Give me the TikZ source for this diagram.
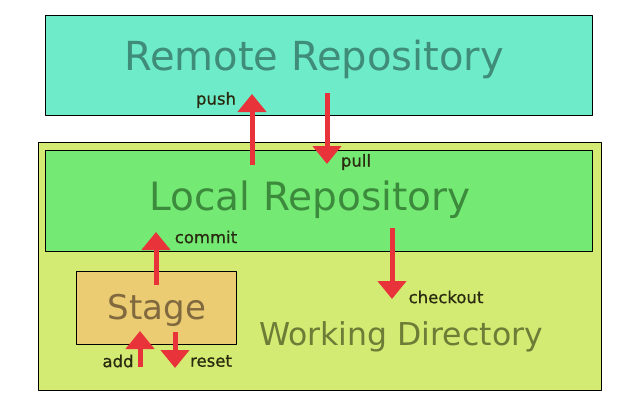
\documentclass[tikz,border=0pt]{standalone}
\usepackage{fontspec}
\setmainfont{DejaVu Sans}
\newfontfamily\oplabelfont[FakeBold=0.8]{DejaVu Sans}
\usetikzlibrary{arrows.meta}
\definecolor{remotefill}{HTML}{6EEBC8}
\definecolor{remotetext}{HTML}{3F8C78}
\definecolor{workfill}{HTML}{D3EB72}
\definecolor{worktext}{HTML}{6D7C36}
\definecolor{localfill}{HTML}{74EA74}
\definecolor{localtext}{HTML}{3C8A3C}
\definecolor{stagefill}{HTML}{ECCC72}
\definecolor{stagetext}{HTML}{80693E}
\definecolor{arrowred}{HTML}{E8333A}
\definecolor{labeltext}{HTML}{2A2A10}
\begin{document}
\begin{tikzpicture}[x=1pt, y=-1pt, line join=round]
			\tikzset{area/.style={draw=black, line width=1pt},
				op/.style={arrowred, line width=5pt, -{Triangle[width=28pt,length=18pt]}},
				op label/.style={font=\oplabelfont\fontsize{16.5}{18}\selectfont, text=labeltext, inner sep=0pt}}
			\useasboundingbox (0,0) rectangle (640,400);
			% boxes
			\draw[area, fill=remotefill] (45,15) rectangle (592,115);
			\draw[area, fill=workfill] (38,142) rectangle (601,390);
			\draw[area, fill=localfill] (45,150) rectangle (592,251);
			\draw[area, fill=stagefill] (76,271) rectangle (236,344);
			\node[text=remotetext, font=\fontsize{40}{44}\selectfont] (remote) at (314,59) {Remote Repository};
			\node[text=localtext, font=\fontsize{39}{43}\selectfont] (local) at (310,200) {Local Repository};
			\node[text=stagetext, font=\fontsize{34}{38}\selectfont] (stage) at (157,310) {Stage};
			\node[text=worktext, font=\fontsize{31.5}{35}\selectfont] (work) at (401,337) {Working Directory};
			% arrow ends
			\coordinate (push s) at (252,165); \coordinate (push e) at (252,94);
			\coordinate (pull s) at (327,93);  \coordinate (pull e) at (327,164);
			\coordinate (commit s) at (156,285); \coordinate (commit e) at (156,232);
			\coordinate (add s) at (140,367); \coordinate (add e) at (140,331);
			\coordinate (reset s) at (175,332); \coordinate (reset e) at (175,368);
			\coordinate (checkout s) at (392,228); \coordinate (checkout e) at (392,299);
			\draw[op] (push s)--(push e);
			\draw[op] (pull s)--(pull e);
			\draw[op] (commit s)--(commit e);
			\draw[op] (add s)--(add e);
			\draw[op] (reset s)--(reset e);
			\draw[op] (checkout s)--(checkout e);
			% labels
			\node[op label] (push) at (216,100) {push};
			\node[op label] (pull) at (356,162) {pull};
			\node[op label] (commit) at (206,237) {commit};
			\node[op label] (add) at (118,361) {add};
			\node[op label] (reset) at (211,361) {reset};
			\node[op label] (checkout) at (446,297) {checkout};
\end{tikzpicture}
\end{document}
